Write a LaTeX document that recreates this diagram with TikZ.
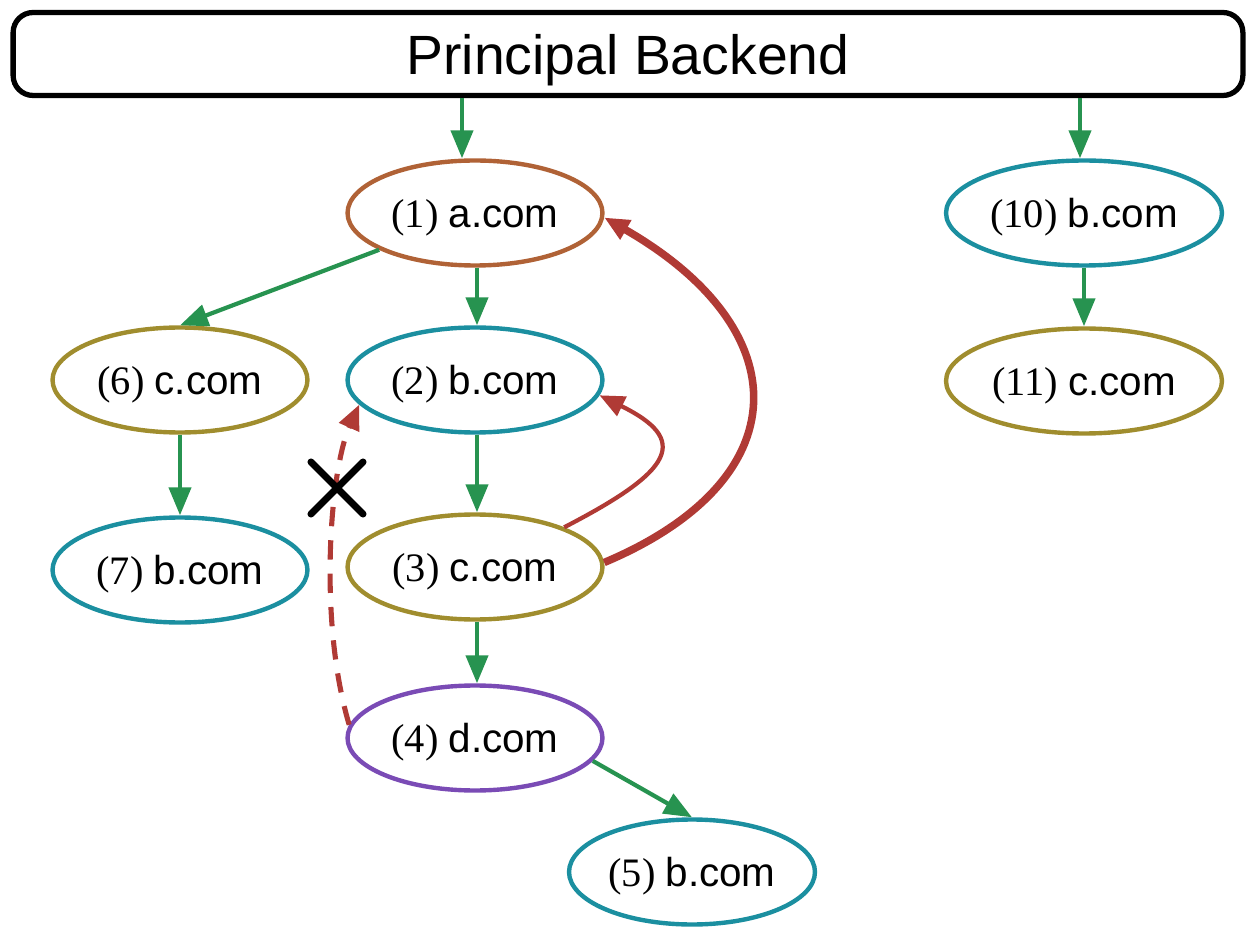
\documentclass[tikz,border=0pt]{standalone}
\usepackage{fontspec}
\setmainfont{Liberation Serif}
\setsansfont{Liberation Sans}
\usepackage{xcolor}
\usetikzlibrary{arrows.meta,shapes.geometric,shapes.misc}
\definecolor{acolor}{HTML}{B06236}
\definecolor{bcolor}{HTML}{1B8FA0}
\definecolor{ccolor}{HTML}{A08D2E}
\definecolor{dcolor}{HTML}{7A4BB5}
\definecolor{callgreen}{HTML}{279350}
\definecolor{backred}{HTML}{B03A35}

\begin{document}
\begin{tikzpicture}[x = 0.02cm, y = -0.02cm,
                    every node/.append style = {font = \fontsize{23}{26}\selectfont},
                    site/.style = {draw, ellipse, line width = 2.5pt, inner sep = 0pt, text depth = 0pt,
                                   minimum width = 5.1cm, minimum height = 2.1cm},
                    call/.style = {draw = callgreen, line width = 2.4pt,
                                   -{Triangle[length = 0.56cm, width = 0.44cm]}},
                    back/.style = {draw = backred, line width = 2.4pt,
                                   -{Triangle[length = 0.5cm, width = 0.42cm]}}]
                \useasboundingbox (0,0) rectangle (1247,952);
                \node[draw, rounded corners = 0.4cm, line width = 3pt, text depth = 0pt,
                      minimum width = 24.6cm, minimum height = 1.66cm,
                      font = \sffamily\fontsize{31.5}{34}\selectfont] (backend) at (628,54) {Principal Backend};
                % main tree
                \node[site, draw = acolor] (n1) at (475,213) {(1) \textsf{a.com}};
                \node[site, draw = bcolor] (n2) at (475,380) {(2) \textsf{b.com}};
                \node[site, draw = ccolor] (n3) at (475,567) {(3) \textsf{c.com}};
                \node[site, draw = dcolor] (n4) at (475,738) {(4) \textsf{d.com}};
                \node[site, draw = bcolor, minimum width = 4.92cm] (n5) at (692,872) {(5) \textsf{b.com}};
                \node[site, draw = ccolor] (n6) at (180,380) {(6) \textsf{c.com}};
                \node[site, draw = bcolor] (n7) at (180,570) {(7) \textsf{b.com}};
                % second tree
                \node[site, draw = bcolor, minimum width = 5.52cm] (n10) at (1084,213) {(10) \textsf{b.com}};
                \node[site, draw = ccolor, minimum width = 5.52cm] (n11) at (1084,381) {(11) \textsf{c.com}};
                \draw[call] ([xshift = -0.26cm]backend.south -| n1.north) -- ([xshift = -0.26cm]n1.north);
                \draw[call] ([xshift = -0.08cm]backend.south -| n10.north) -- ([xshift = -0.08cm]n10.north);
                \draw[call] ([xshift = 0.04cm]n1.south) -- ([xshift = 0.04cm]n2.north);
                \draw[call] (n1.201) -- (n6.north);
                \draw[call] (n6.south) -- (n7.north);
                \draw[call] ([xshift = 0.04cm]n2.south) -- ([xshift = 0.04cm]n3.north);
                \draw[call] ([xshift = 0.04cm]n3.south) -- ([xshift = 0.04cm]n4.north);
                \draw[call] (n4.349) -- (n5.north);
                \draw[call] (n10.south) -- (n11.north);
                % redirects back up
                \draw[back] (n3.24) .. controls (675,470) and (690,440) .. (n2.353);
                \draw[back, line width = 4.3pt] (n3.2) .. controls (800,480) and (800,330) .. (n1.358);
                \draw[back, line width = 2.9pt, dash pattern = on 11pt off 8pt]
                    (n4.174) .. controls (318,620) and (330,470) .. (n2.192);
                \node[cross out, draw, line width = 4pt, line cap = round,
                      minimum size = 0.9cm, inner sep = 0pt] (blocked) at (337,488) {};
                \end{tikzpicture}
\end{document}
